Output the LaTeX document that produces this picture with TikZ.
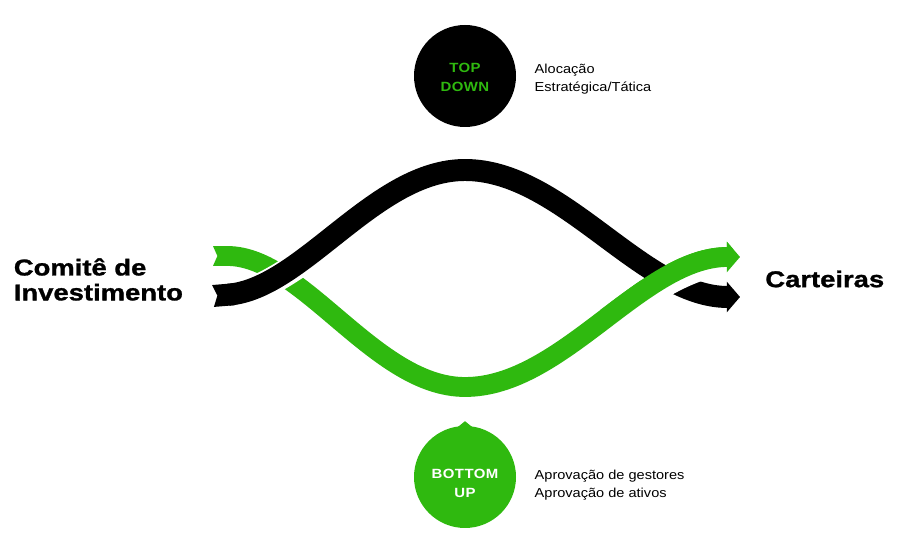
\documentclass[tikz,border=0pt]{standalone}
\usepackage{fontspec}
\setmainfont{Liberation Sans}[FakeStretch=1.12]
\newfontfamily\headfont{Liberation Sans}[FakeStretch=1.2, BoldFeatures={FakeBold=1.2}]
\usetikzlibrary{positioning,arrows.meta}
\definecolor{FlowGreen}{HTML}{2FB90F}
\definecolor{FlowBlack}{HTML}{000000}

\tikzset{
  ribbon/.style={line width=#1,
    {Triangle Cap[reversed,length=2.5pt]}-{Triangle[width=17pt,length=7.5pt]},
    preaction={draw=white, line width=#1+3pt, arrows=-, transform canvas={yshift=-2.5pt}}},
  bigtext/.style={font=\headfont\bfseries\fontsize{13}{14.2}\selectfont, align=left, inner sep=0pt},
  bubble/.style={circle, minimum size=2.04cm, inner sep=0pt},
  bubtext/.style={align=center, inner sep=0pt,
    font=\bfseries\fontsize{7.6}{10.8}\selectfont\addfontfeature{LetterSpace=3}},
  note/.style={font=\fontsize{7.4}{10.2}\selectfont, align=left, inner sep=0pt}
}

\begin{document}
\begin{tikzpicture}
  \useasboundingbox (0,0) rectangle (18,11);

  % side labels
  \node[bigtext, anchor=west] (cdi) at (0.27,5.41) {Comitê de\\Investimento};
  \node[bigtext, anchor=west] (cart) at (15.3,5.42) {Carteiras};

  % ribbon ends
  \coordinate (gs) at (4.26,5.88);
  \coordinate (gp) at (9.3,3.26);
  \coordinate (ge) at (14.8,5.86);
  \coordinate (bs) at (4.26,5.08);
  \coordinate (bp) at (9.3,7.6);
  \coordinate (be) at (14.8,5.06);

  \draw[ribbon=11.3pt, FlowGreen] (gs) .. controls +(1.8,0) and +(-1.8,0) .. (gp)
    .. controls +(1.95,0) and +(-1.95,0) .. (ge);
  \draw[ribbon=12.5pt, FlowBlack] (bs) .. controls +(1.8,0.15) and +(-1.8,0) .. (bp)
    .. controls +(1.95,0) and +(-1.95,0) .. (be);
  % green passes over black on the right
  \begin{scope}
    \clip (12,0) rectangle (18,11);
    \draw[ribbon=11.3pt, FlowGreen] (gs) .. controls +(1.8,0) and +(-1.8,0) .. (gp)
      .. controls +(1.95,0) and +(-1.95,0) .. (ge);
  \end{scope}

  % top down
  \node[bubble, fill=FlowBlack] (td) at (9.3,9.48) {};
  \node[bubtext, text=FlowGreen] (tdtext) at ([yshift=-0.03cm]td.center) {TOP\\DOWN};
  \node[note, right=0.36cm of td, yshift=-0.06cm] (tdnote) {Alocação\\Estratégica/Tática};

  % bottom up
  \node[bubble, fill=FlowGreen] (bu) at (9.3,1.46) {};
  \fill[FlowGreen] ([xshift=-0.17cm,yshift=-0.05cm]bu.north) -- ([yshift=0.09cm]bu.north)
    -- ([xshift=0.17cm,yshift=-0.05cm]bu.north) -- cycle;
  \node[bubtext, text=white] (butext) at ([yshift=-0.12cm]bu.center) {BOTTOM\\UP};
  \node[note, right=0.36cm of bu, yshift=-0.17cm] (bunote) {Aprovação de gestores\\Aprovação de ativos};
\end{tikzpicture}
\end{document}
